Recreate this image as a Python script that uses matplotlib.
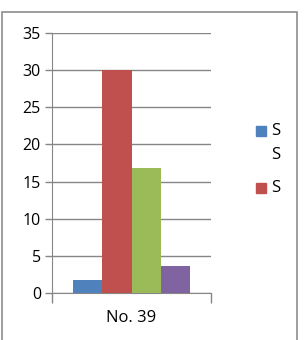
import matplotlib.pyplot as plt
from matplotlib.patches import Rectangle

category = "No. 39"
values = [1.8, 30, 16.8, 3.7]
colors = ["#4F81BD", "#C0504D", "#9BBB59", "#8064A2"]
legend_labels = ["S", "S", "S"]
legend_colors = ["#4F81BD", None, "#C0504D"]
yticks = [0, 5, 10, 15, 20, 25, 30, 35]

plt.rcParams['font.family'] = ['Open Sans', 'DejaVu Sans']

W, H = 304, 340
fig = plt.figure(figsize=(W / 100, H / 100), dpi=100)

# outer frame of the chart object
fig.patches.append(Rectangle((1.5 / W, -0.1), 295.5 / W, 1.1 - 11.5 / H, transform=fig.transFigure,
                             fill=False, edgecolor="#8c8c8c", linewidth=1.2))

ax = fig.add_axes([52 / W, 1 - 293 / H, 159 / W, 260 / H])

n = len(values)
bw = 0.73 / n
for i, (v, c) in enumerate(zip(values, colors)):
    ax.bar(-0.365 + bw * (i + 0.5), v, width=bw, color=c, zorder=3)

ax.set_xlim(-0.5, 0.5)
ax.set_ylim(0, 35)
ax.set_yticks(yticks)
ax.set_xticks([-0.5, 0.5])
ax.set_xticklabels([])
ax.tick_params(axis='x', length=7, color="#868686", width=1)
ax.tick_params(axis='y', length=5, color="#868686", width=1, labelsize=11.5, pad=3)
ax.text(0.5, -(318 - 293) / 260, category, transform=ax.transAxes, ha='center', va='center', fontsize=12)
ax.grid(axis='y', color="#868686", linewidth=1, zorder=0)
for s in ["top", "right"]:
    ax.spines[s].set_visible(False)
for s in ["left", "bottom"]:
    ax.spines[s].set_color("#868686")

# legend, drawn by hand so the wrapped first label keeps its swatch on the top line
legend_y = [131, 155, 188]
for lab, c, y in zip(legend_labels, legend_colors, legend_y):
    if c is not None:
        fig.patches.append(Rectangle((256 / W, 1 - (y + 5) / H), 10 / W, 10 / H,
                                     transform=fig.transFigure, color=c))
    fig.text(271 / W, 1 - y / H, lab, ha='left', va='center', fontsize=12)

fig.savefig("out.png", dpi=100)
